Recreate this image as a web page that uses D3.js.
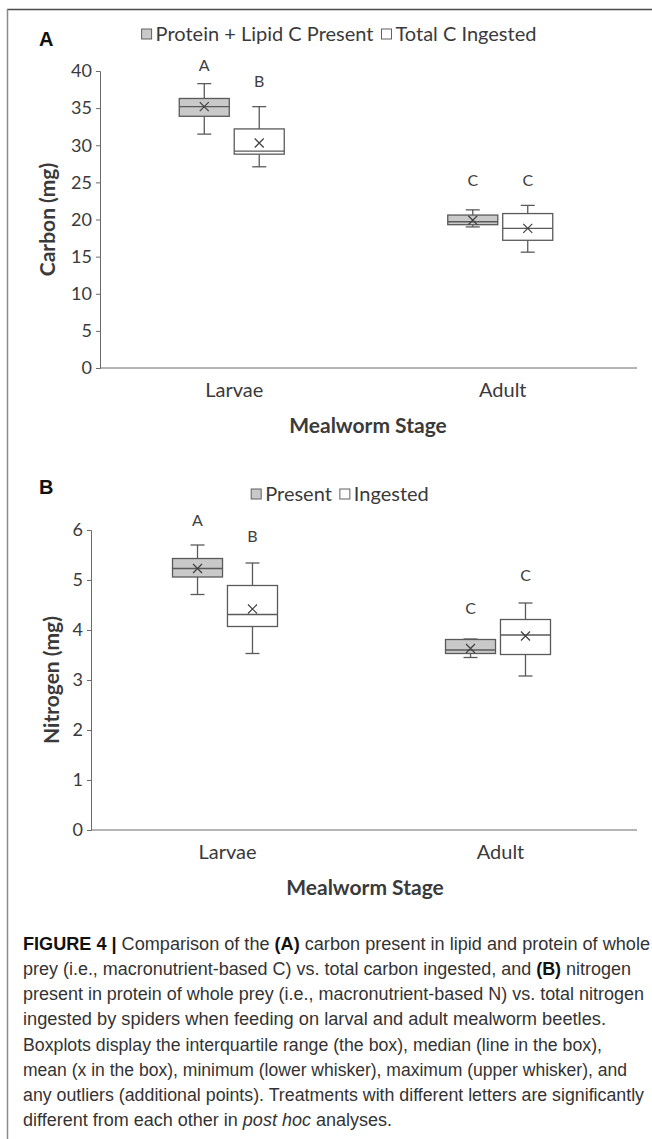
<!DOCTYPE html>
<html>
<head>
<meta charset="utf-8">
<script src="https://cdn.jsdelivr.net/npm/d3@7"></script>
<style>
  body { margin: 0; background: #fff; }
  svg { display: block; }
  .tick text { font-family: Lato, sans-serif; }
</style>
</head>
<body>
<div id="fig"></div>
<script>
// categories and series
const stages = ["Larvae", "Adult"];
const seriesA = ["Protein + Lipid C Present", "Total C Ingested"];
const seriesB = ["Present", "Ingested"];

// box stats, order: Larvae Present, Larvae Ingested, Adult Present, Adult Ingested
const carbonMin    = [31.5, 27.1, 19.0, 15.6];
const carbonQ1     = [33.9, 28.8, 19.3, 17.2];
const carbonMedian = [35.2, 29.2, 19.7, 18.8];
const carbonQ3     = [36.3, 32.2, 20.6, 20.8];
const carbonMax    = [38.3, 35.2, 21.3, 21.9];
const carbonMean   = [35.2, 30.3, 19.9, 18.8];
const carbonLetters = ["A", "B", "C", "C"];
const carbonLetterAt = [40.7, 38.6, 25.3, 25.3];
const carbonTicks = [0, 5, 10, 15, 20, 25, 30, 35, 40];

const nitrogenMin    = [4.71, 3.53, 3.45, 3.08];
const nitrogenQ1     = [5.06, 4.07, 3.53, 3.51];
const nitrogenMedian = [5.23, 4.31, 3.60, 3.90];
const nitrogenQ3     = [5.43, 4.89, 3.81, 4.21];
const nitrogenMax    = [5.70, 5.34, 3.82, 4.54];
const nitrogenMean   = [5.23, 4.42, 3.63, 3.88];
const nitrogenLetters = ["A", "B", "C", "C"];
const nitrogenLetterAt = [6.2, 5.87, 4.44, 5.09];
const nitrogenTicks = [0, 1, 2, 3, 4, 5, 6];

const W = 652, H = 1139;
const axisColor = "#6b6b6b";
const boxStroke = "#5a5a5a";
const grayFill = "#c9c9c9";

const svg = d3.select("#fig").append("svg")
    .attr("width", W)
    .attr("height", H);

// frame (only top and left edges show)
svg.append("line").attr("x1", 7).attr("x2", W).attr("y1", 9.5).attr("y2", 9.5)
    .attr("stroke", "#4a4a4a").attr("stroke-width", 1.5);
svg.append("line").attr("x1", 7.5).attr("x2", 7.5).attr("y1", 9).attr("y2", H)
    .attr("stroke", "#8a8a8a").attr("stroke-width", 1.5);

function buildRows(series, mins, q1s, meds, q3s, maxs, means, letters, letterAt) {
    const rows = [];
    stages.forEach((st, i) => {
        series.forEach((se, j) => {
            const k = i * series.length + j;
            rows.push({stage: st, series: se, idx: j,
                min: mins[k], q1: q1s[k], med: meds[k], q3: q3s[k], max: maxs[k],
                mean: means[k], letter: letters[k], letterAt: letterAt[k]});
        });
    });
    return rows;
}

function drawPanel(cfg) {
    const g = svg.append("g");
    const x0 = d3.scaleBand().domain(stages).range([cfg.left, cfg.right]);
    const bw = x0.bandwidth();
    const x1 = d3.scaleBand().domain(cfg.series)
        .range([bw / 2 - 55, bw / 2 + 50]).paddingInner(0.09);
    const y = d3.scaleLinear().domain(cfg.domain).range([cfg.bottom, cfg.top]);

    // y axis
    const yAx = g.append("g")
        .attr("transform", `translate(${cfg.left},0)`)
        .call(d3.axisLeft(y).tickValues(cfg.ticks).tickSize(4).tickPadding(4).tickFormat(d3.format("d")));
    yAx.select(".domain").attr("stroke", axisColor);
    yAx.selectAll(".tick line").attr("stroke", axisColor);
    yAx.selectAll(".tick text").attr("font-size", 18).attr("fill", "#3a3a3a");

    // x axis
    const xAx = g.append("g")
        .attr("transform", `translate(0,${cfg.bottom})`)
        .call(d3.axisBottom(x0).tickSize(0).tickPadding(15));
    xAx.select(".domain").attr("stroke", axisColor).attr("d", `M${cfg.left},0H${cfg.right}`);
    xAx.selectAll(".tick text").attr("font-size", 20).attr("fill", "#3a3a3a");

    const rows = buildRows(cfg.series, cfg.min, cfg.q1, cfg.med, cfg.q3, cfg.max, cfg.mean, cfg.letters, cfg.letterAt);
    const bxw = x1.bandwidth();
    const cap = 7;
    const box = g.selectAll(".bx").data(rows).enter().append("g")
        .attr("class", "bx")
        .attr("transform", d => `translate(${x0(d.stage) + x1(d.series)},0)`);

    // whiskers
    box.append("line").attr("x1", bxw / 2).attr("x2", bxw / 2)
        .attr("y1", d => y(d.max)).attr("y2", d => y(d.q3))
        .attr("stroke", boxStroke).attr("stroke-width", 1.3);
    box.append("line").attr("x1", bxw / 2).attr("x2", bxw / 2)
        .attr("y1", d => y(d.q1)).attr("y2", d => y(d.min))
        .attr("stroke", boxStroke).attr("stroke-width", 1.3);
    box.append("line").attr("x1", bxw / 2 - cap).attr("x2", bxw / 2 + cap)
        .attr("y1", d => y(d.max)).attr("y2", d => y(d.max))
        .attr("stroke", boxStroke).attr("stroke-width", 1.3);
    box.append("line").attr("x1", bxw / 2 - cap).attr("x2", bxw / 2 + cap)
        .attr("y1", d => y(d.min)).attr("y2", d => y(d.min))
        .attr("stroke", boxStroke).attr("stroke-width", 1.3);

    // box
    box.append("rect").attr("x", 0).attr("width", bxw)
        .attr("y", d => y(d.q3)).attr("height", d => y(d.q1) - y(d.q3))
        .attr("fill", d => d.idx === 0 ? grayFill : "#fff")
        .attr("stroke", boxStroke).attr("stroke-width", 1.3);
    // median
    box.append("line").attr("x1", 0).attr("x2", bxw)
        .attr("y1", d => y(d.med)).attr("y2", d => y(d.med))
        .attr("stroke", boxStroke).attr("stroke-width", 1.3);
    // mean x
    const m = 4.5;
    box.append("path")
        .attr("d", d => {
            const cx = bxw / 2, cy = y(d.mean);
            return `M${cx - m},${cy - m}L${cx + m},${cy + m}M${cx - m},${cy + m}L${cx + m},${cy - m}`;
        })
        .attr("stroke", "#404040").attr("stroke-width", 1.2).attr("fill", "none");
    // letters
    box.append("text").attr("x", bxw / 2).attr("y", d => y(d.letterAt))
        .attr("dy", "0.35em")
        .attr("text-anchor", "middle")
        .attr("font-family", "Lato, sans-serif").attr("font-size", 16).attr("fill", "#404040")
        .text(d => d.letter);

    // axis titles
    g.append("text")
        .attr("transform", `translate(${cfg.yTitleX},${(cfg.top + cfg.bottom) / 2}) rotate(-90)`)
        .attr("text-anchor", "middle").attr("dy", "0.35em")
        .attr("font-family", "Lato, sans-serif").attr("font-weight", "bold")
        .attr("font-size", 21).attr("fill", "#3a3a3a")
        .text(cfg.yTitle);
    g.append("text")
        .attr("x", cfg.xTitleX).attr("y", cfg.bottom + 65)
        .attr("text-anchor", "middle")
        .attr("font-family", "Lato, sans-serif").attr("font-weight", "bold")
        .attr("font-size", 21).attr("fill", "#3a3a3a")
        .text("Mealworm Stage");

    // panel letter
    g.append("text").attr("x", 39).attr("y", cfg.labelY)
        .attr("font-family", "Liberation Sans, Arial, sans-serif").attr("font-weight", "bold")
        .attr("font-size", 20).attr("fill", "#111")
        .text(cfg.label);

    // legend
    const leg = g.append("g").attr("transform", `translate(0,${cfg.legendY})`);
    const items = leg.selectAll("g").data(cfg.series).enter().append("g");
    items.append("rect").attr("width", 10).attr("height", 10).attr("y", -5)
        .attr("fill", (d, i) => i === 0 ? grayFill : "#fff")
        .attr("stroke", "#606060").attr("stroke-width", 1);
    items.append("text").attr("x", 14).attr("dy", "0.35em")
        .attr("font-family", "Lato, sans-serif").attr("font-size", 20).attr("fill", "#3a3a3a")
        .text(d => d);
    let xpos = 0;
    items.each(function() {
        const w = this.getBBox().width;
        d3.select(this).attr("transform", `translate(${xpos},0)`);
        xpos += w + 8;
    });
    const total = xpos - 8;
    items.attr("transform", function() {
        const t = d3.select(this).attr("transform").match(/translate\(([-\d.]+)/)[1];
        return `translate(${+t + cfg.legendCx - total / 2},0)`;
    });
}

drawPanel({
    label: "A", labelY: 46, legendY: 34, legendCx: 339,
    series: seriesA, domain: [0, 40], ticks: carbonTicks,
    left: 100, right: 637, top: 71, bottom: 368,
    min: carbonMin, q1: carbonQ1, med: carbonMedian, q3: carbonQ3, max: carbonMax, mean: carbonMean,
    letters: carbonLetters, letterAt: carbonLetterAt,
    yTitle: "Carbon (mg)", yTitleX: 48, xTitleX: 368
});

drawPanel({
    label: "B", labelY: 494, legendY: 494, legendCx: 340,
    series: seriesB, domain: [0, 6], ticks: nitrogenTicks,
    left: 91, right: 637, top: 530, bottom: 830,
    min: nitrogenMin, q1: nitrogenQ1, med: nitrogenMedian, q3: nitrogenQ3, max: nitrogenMax, mean: nitrogenMean,
    letters: nitrogenLetters, letterAt: nitrogenLetterAt,
    yTitle: "Nitrogen (mg)", yTitleX: 52, xTitleX: 365
});

// caption
const captionLines = [
    [["b", "FIGURE 4 | "], ["n", "Comparison of the "], ["b", "(A)"], ["n", " carbon present in lipid and protein of whole"]],
    [["n", "prey (i.e., macronutrient-based C) vs. total carbon ingested, and "], ["b", "(B)"], ["n", " nitrogen"]],
    [["n", "present in protein of whole prey (i.e., macronutrient-based N) vs. total nitrogen"]],
    [["n", "ingested by spiders when feeding on larval and adult mealworm beetles."]],
    [["n", "Boxplots display the interquartile range (the box), median (line in the box),"]],
    [["n", "mean (x in the box), minimum (lower whisker), maximum (upper whisker), and"]],
    [["n", "any outliers (additional points). Treatments with different letters are significantly"]],
    [["n", "different from each other in "], ["i", "post hoc"], ["n", " analyses."]]
];
const captionWidths = [627, 608, 621, 583, 579, 604, 621, 369];

const cap = svg.append("g");
captionLines.forEach((parts, i) => {
    const t = cap.append("text")
        .attr("x", 23).attr("y", 950 + i * 25.15)
        .attr("font-family", "Liberation Sans, Arial, sans-serif")
        .attr("font-size", 17.5).attr("fill", "#333")
        .attr("textLength", captionWidths[i])
        .attr("lengthAdjust", "spacingAndGlyphs");
    parts.forEach(p => {
        const ts = t.append("tspan").text(p[1]);
        if (p[0] === "b") ts.attr("font-weight", "bold").attr("fill", "#111");
        if (p[0] === "i") ts.attr("font-style", "italic");
    });
});
</script>
</body>
</html>
